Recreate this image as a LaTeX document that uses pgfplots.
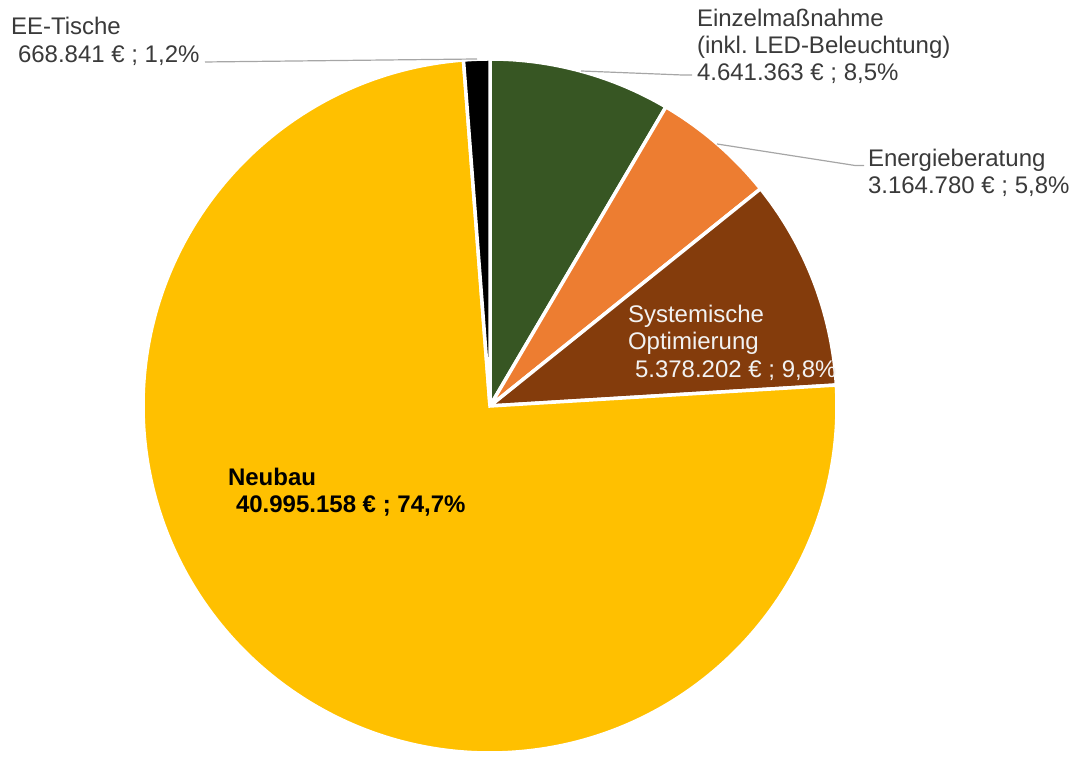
\documentclass[border=0pt]{standalone}
\usepackage{pgfplots}
\pgfplotsset{compat=1.18}
\usepackage{pgfplotstable}
\usepackage{fontspec}
\setmainfont{Liberation Sans}
\frenchspacing
\definecolor{cgreen}{HTML}{375623}
\definecolor{corange}{HTML}{ED7D31}
\definecolor{cbrown}{HTML}{843C0C}
\definecolor{cyellow}{HTML}{FFC000}
\definecolor{cblack}{HTML}{000000}
\definecolor{ctext}{HTML}{3A3A3A}
\definecolor{cline}{HTML}{A6A6A6}
\definecolor{cinner}{HTML}{F2F2F2}

% values in million EUR, clockwise from 12 o'clock
\pgfplotstableread{
name value col
Einzelmassnahme 4.641363 cgreen
Energieberatung 3.164780 corange
Systemische 5.378202 cbrown
Neubau 40.995158 cyellow
EE-Tische 0.668841 cblack
}\piedata

\begin{document}
\begin{tikzpicture}
\begin{axis}[
  width=538.5bp, height=376.5bp, scale only axis,
  xmin=0, xmax=1077, ymin=-753, ymax=0,
  hide axis, clip=false,
]
\path (axis cs:0,-753) rectangle (axis cs:1077,0);
% total
\def\total{0}
\pgfplotsforeachungrouped \i in {0,...,4}{%
  \pgfplotstablegetelem{\i}{value}\of\piedata
  \pgfmathsetmacro\total{\total+\pgfplotsretval}%
}
\def\cum{90}
\pgfplotsforeachungrouped \i in {0,...,4}{%
  \pgfplotstablegetelem{\i}{value}\of\piedata \let\v\pgfplotsretval
  \pgfplotstablegetelem{\i}{col}\of\piedata \let\slicecol\pgfplotsretval
  \pgfmathsetmacro\ang{360*\v/\total}%
  \pgfmathsetmacro\en{\cum-\ang}%
  \edef\cmd{\noexpand\filldraw[fill=\slicecol, draw=white, line width=1.75bp, line join=miter]
    (axis cs:490,-406) -- ([shift={(\cum:173.5bp)}]axis cs:490,-406)
    arc[start angle=\cum, end angle=\en, radius=173.5bp] -- cycle;}%
  \cmd
  \let\cum\en
}
% leader lines
\draw[cline, line width=0.6bp] (axis cs:205,-62) -- (axis cs:477,-59);
\draw[cline, line width=0.6bp] (axis cs:581,-71) -- (axis cs:682,-75) -- (axis cs:692,-75);
\draw[cline, line width=0.6bp] (axis cs:717,-144) -- (axis cs:855,-165.5) -- (axis cs:864,-165.5);
% labels
\begin{scope}[every node/.style={anchor=base west, inner sep=0pt, outer sep=0pt, font=\fontsize{12bp}{13.8bp}\selectfont}]
\node[text=ctext] at (axis cs:11,-35) {EE-Tische};
\node[text=ctext] at (axis cs:18,-62.5) {668.841 € ; 1,2\%};
\node[text=ctext] at (axis cs:697,-26.5) {Einzelmaßnahme};
\node[text=ctext] at (axis cs:697,-53.5) {(inkl. LED-Beleuchtung)};
\node[text=ctext] at (axis cs:697,-80.5) {4.641.363 € ; 8,5\%};
\node[text=ctext] at (axis cs:868,-166.5) {Energieberatung};
\node[text=ctext] at (axis cs:868,-194) {3.164.780 € ; 5,8\%};
\node[text=cinner] at (axis cs:628,-322.5) {Systemische};
\node[text=cinner] at (axis cs:628,-350) {Optimierung};
\node[text=cinner] at (axis cs:635,-378) {5.378.202 € ; 9,8\%};
\node[text=black, font=\fontsize{12bp}{13.8bp}\selectfont\bfseries] at (axis cs:228,-485.5) {Neubau};
\node[text=black, font=\fontsize{12bp}{13.8bp}\selectfont\bfseries] at (axis cs:236,-513) {40.995.158 € ; 74,7\%};
\end{scope}
\end{axis}
\end{tikzpicture}
\end{document}
